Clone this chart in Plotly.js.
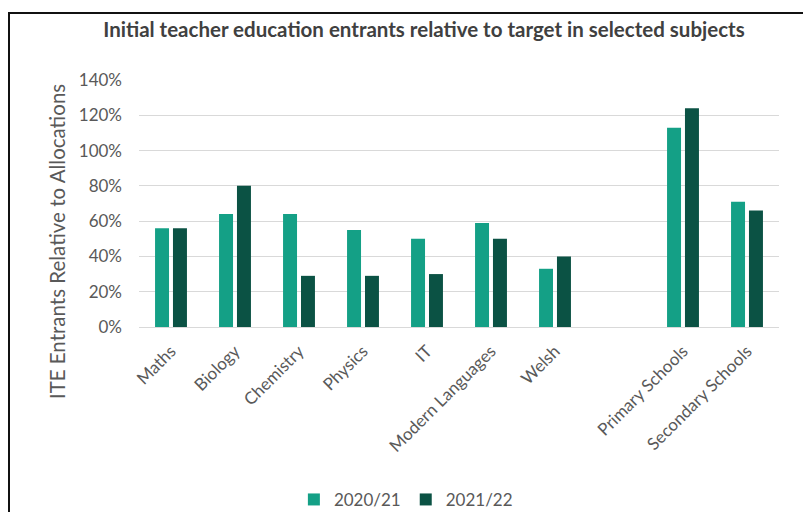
<!DOCTYPE html>
<html>
<head>
<meta charset="utf-8">
<script src="https://cdn.plot.ly/plotly-3.0.1.min.js"></script>
<style>
html,body{margin:0;padding:0;background:#fff;}
#wrap{position:relative;width:803px;height:512px;overflow:hidden;}
#chart{position:absolute;left:0;top:0;width:803px;height:512px;}
#frame{position:absolute;left:8px;top:12px;width:820px;height:520px;border-left:2px solid #111;border-top:2px solid #111;pointer-events:none;}
</style>
</head>
<body>
<div id="wrap"><div id="chart"></div><div id="frame"></div></div>
<script>
const categories = ["Maths","Biology","Chemistry","Physics","IT","Modern Languages","Welsh"," ","Primary Schools","Secondary Schools"];
const series2020 = [0.56, 0.64, 0.64, 0.55, 0.50, 0.59, 0.33, null, 1.13, 0.71];
const series2021 = [0.56, 0.80, 0.29, 0.29, 0.30, 0.50, 0.40, null, 1.24, 0.66];
const seriesNames = ["2020/21","2021/22"];
const yTicks = [0,0.2,0.4,0.6,0.8,1.0,1.2,1.4];

const FONT = "Lato, 'Noto Sans', sans-serif";
const traces = [
  {type:"bar", name:seriesNames[0], x:categories, y:series2020, marker:{color:"#14a086"}},
  {type:"bar", name:seriesNames[1], x:categories, y:series2021, marker:{color:"#0b5244"}}
];
const layout = {
  width:803, height:512,
  paper_bgcolor:"#fff", plot_bgcolor:"#fff",
  margin:{l:139, r:24, t:80, b:185, autoexpand:false},
  font:{family:FONT, color:"#595959"},
  title:{text:"<b>Initial teacher education entrants relative to target in selected subjects</b>",
    font:{family:FONT, size:20.5, color:"#404040"}, x:0.528, xanchor:"center", y:0.942, yanchor:"middle"},
  barmode:"group", bargap:0.44, bargroupgap:0.22,
  xaxis:{type:"category", tickangle:-45, tickfont:{size:17, color:"#595959"}, showgrid:false,
    showline:false, ticks:"", zeroline:false, fixedrange:true, ticklabelstandoff:10},
  yaxis:{range:[0,1.4], tickvals:yTicks, tickformat:".0%", tickfont:{size:17, color:"#595959"},
    gridcolor:"#d9d9d9", gridwidth:1, zeroline:true, zerolinecolor:"#d9d9d9", zerolinewidth:1,
    showline:false, ticks:"", ticklabelstandoff:16, fixedrange:true},
  legend:{orientation:"h", x:0.417, xanchor:"center", y:-0.7, yanchor:"middle",
    font:{size:17, color:"#595959"}, itemwidth:30, traceorder:"normal"},
  annotations:[{text:"ITE Entrants Relative to Allocations", textangle:-90, xref:"paper", yref:"paper",
    x:-0.128, y:0.344, xanchor:"center", yanchor:"middle", showarrow:false,
    font:{family:FONT, size:20.5, color:"#595959"}}],
  showlegend:true
};
Plotly.newPlot("chart", traces, layout, {displayModeBar:false, staticPlot:true});
</script>
</body>
</html>
